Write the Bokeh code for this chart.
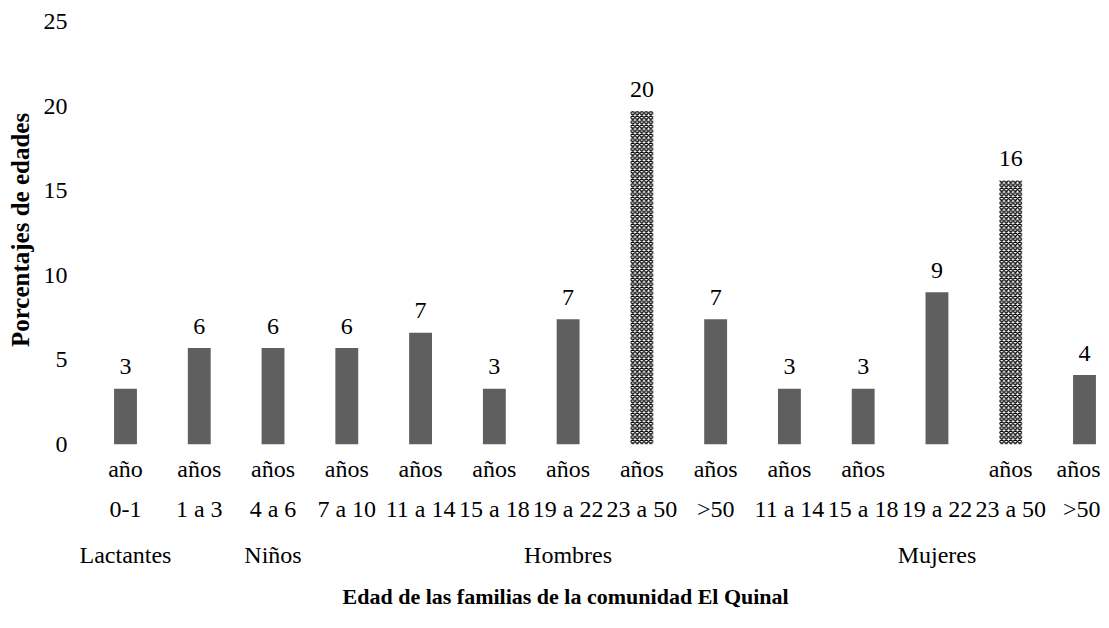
from bokeh.plotting import figure
from bokeh.models import ColumnDataSource, FixedTicker, LinearAxis, Range1d, Title
from bokeh.embed import file_html
from bokeh.resources import INLINE
from bokeh.core.properties import value

# ---- data ----
unit_row = ["año", "años", "años", "años", "años", "años", "años", "años", "años",
            "años", "años", "", "años", "años"]
range_row = ["0-1", "1 a 3", "4 a 6", "7 a 10", "11 a 14", "15 a 18", "19 a 22",
             "23 a 50", ">50", "11 a 14", "15 a 18", "19 a 22", "23 a 50", ">50"]
groups = ["Lactantes", "Niños", "Hombres", "Mujeres"]
group_pos = [0, 2, 6, 11]
percent = [3.3, 5.7, 5.7, 5.7, 6.6, 3.3, 7.4, 19.7, 7.4, 3.3, 3.3, 9.0, 15.6, 4.1]
hatched = [False, False, False, False, False, False, False, True, False,
           False, False, False, True, False]
y_ticks = [0, 5, 10, 15, 20, 25]

FONT = "Liberation Serif"
xs = list(range(len(percent)))

solid = ColumnDataSource(dict(
    x=[x for x, h in zip(xs, hatched) if not h],
    top=[v for v, h in zip(percent, hatched) if not h]))
hatch = ColumnDataSource(dict(
    x=[x for x, h in zip(xs, hatched) if h],
    top=[v for v, h in zip(percent, hatched) if h]))
labels = ColumnDataSource(dict(x=xs, y=percent,
                               t=[str(int(round(v))) for v in percent]))

p = figure(width=1100, height=620, output_backend="svg", toolbar_location=None,
           x_range=Range1d(-0.7185, 13.217), y_range=Range1d(0, 25.35),
           x_axis_location=None, min_border_left=72, min_border_right=0,
           min_border_top=15, min_border_bottom=175)
p.outline_line_color = None
p.xgrid.visible = False
p.ygrid.visible = False
p.background_fill_color = "white"
p.border_fill_color = "white"

p.vbar(x="x", top="top", width=0.31, source=solid, fill_color="#5f5f5f",
       line_color=None)
p.vbar(x="x", top="top", width=0.31, source=hatch, fill_color="white",
       line_color=None, hatch_pattern="x", hatch_color="black",
       hatch_scale=4.5, hatch_weight=1.3)

p.text(x="x", y="y", text="t", source=labels, text_align="center",
       text_baseline="middle", y_offset=-22, text_font=value(FONT),
       text_font_size="24px", text_color="black")

# y axis
ya = p.yaxis[0]
ya.ticker = FixedTicker(ticks=y_ticks)
ya.axis_line_color = None
ya.major_tick_line_color = None
ya.minor_tick_line_color = None
ya.major_tick_out = 0
ya.major_tick_in = 0
ya.major_label_text_font = FONT
ya.major_label_text_font_size = "24px"
ya.major_label_text_color = "black"
ya.major_label_standoff = 5
ya.axis_label = "Porcentajes de edades"
ya.axis_label_text_font = FONT
ya.axis_label_text_font_size = "25px"
ya.axis_label_text_font_style = "bold"
ya.axis_label_text_color = "black"
ya.axis_label_standoff = 7


def make_axis(ticks, texts, standoff):
    ax = LinearAxis(ticker=FixedTicker(ticks=ticks),
                    major_label_overrides={t: s for t, s in zip(ticks, texts)})
    ax.axis_line_color = None
    ax.major_tick_line_color = None
    ax.minor_tick_line_color = None
    ax.major_tick_out = 0
    ax.major_tick_in = 0
    ax.major_label_standoff = standoff
    ax.major_label_text_font = FONT
    ax.major_label_text_font_size = "24px"
    ax.major_label_text_color = "black"
    return ax


ax1 = make_axis(xs, unit_row, 11)
ax2 = make_axis(xs, range_row, 11)
ax3 = make_axis(group_pos, groups, 17)
p.add_layout(ax1, "below")
p.add_layout(ax2, "below")
p.add_layout(ax3, "below")

title = Title(text="Edad de las familias de la comunidad El Quinal",
              align="left", offset=270, standoff=23,
              text_font=FONT, text_font_size="22px", text_font_style="bold",
              text_color="black")
p.add_layout(title, "below")

open("out.html", "w").write(file_html(p, INLINE))
